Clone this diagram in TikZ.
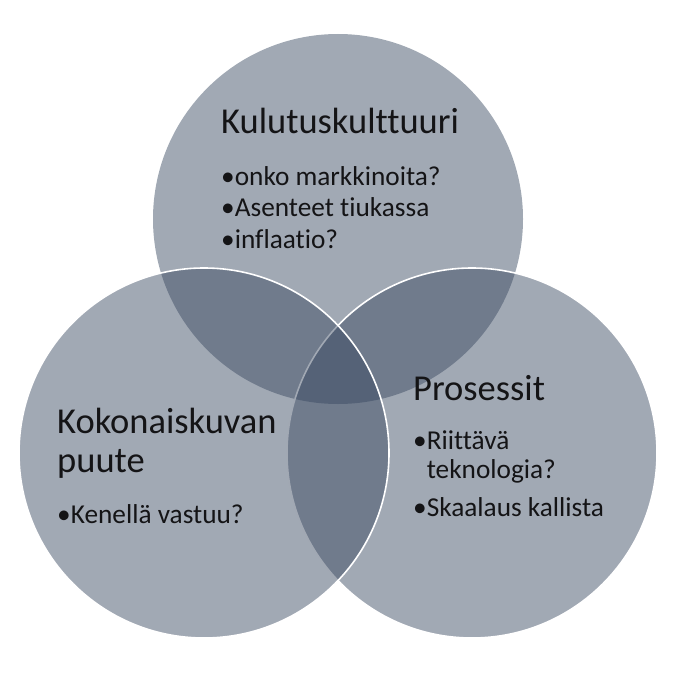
\documentclass[tikz,border=0pt]{standalone}
\usepackage{fontspec}
\setmainfont{Carlito}[Ligatures={NoCommon}]
\definecolor{venn}{RGB}{54,70,94}
\definecolor{txt}{RGB}{20,20,22}
\begin{document}
\begin{tikzpicture}[x=1pt,y=-1pt,
  venncircle/.style={circle, inner sep=0pt, minimum size=370pt, fill=venn, fill opacity=0.465},
  ring/.style={draw=white, line width=1.6pt},
  headtext/.style={anchor=base west, inner sep=0pt, text=txt, font=\fontsize{36.5}{40}\selectfont},
  itemtext/.style={anchor=base west, inner sep=0pt, text=txt, font=\fontsize{27.3}{30}\selectfont}]
\useasboundingbox (0,0) rectangle (690,674);
\node[venncircle] (top) at (338,219) {};
\node[venncircle, ring] (right) at (472,453) {};
\node[venncircle, ring] (left) at (204,453) {};
% top circle
\node[headtext] (t0) at (221,133) {Kulutuskulttuuri};
\node[itemtext] (t1) at (221,185) {•onko markkinoita?};
\node[itemtext] (t2) at (221,216.5) {•Asenteet tiukassa};
\node[itemtext] (t3) at (221,248) {•inflaatio?};
% left circle
\node[headtext] (l0) at (57,433) {Kokonaiskuvan};
\node[headtext] (l1) at (57,472) {puute};
\node[itemtext] (l2) at (57,523) {•Kenellä vastuu?};
% right circle
\node[headtext] (r0) at (413,400) {Prosessit};
\node[itemtext] (r1) at (413,449) {•Riittävä};
\node[itemtext] (r2) at (413,478) {\phantom{•}teknologia?};
\node[itemtext] (r3) at (413,516) {•Skaalaus kallista};
\end{tikzpicture}
\end{document}
